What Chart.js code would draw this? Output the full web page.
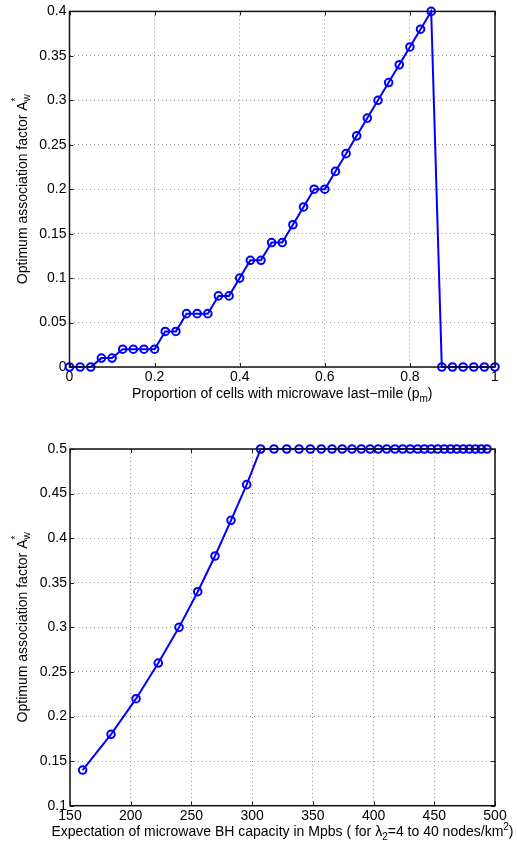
<!DOCTYPE html>
<html>
<head>
<meta charset="utf-8">
<script src="https://cdn.jsdelivr.net/npm/chart.js@4/dist/chart.umd.min.js"></script>
<style>
  body { margin: 0; background: #fff; }
  canvas { display: block; }
</style>
</head>
<body>
<canvas id="topChart" width="517" height="420"></canvas>
<canvas id="bottomChart" width="517" height="429"></canvas>
<script>
// top plot: proportion of cells with microwave last-mile
const pmValues = [0, 0.025, 0.05, 0.075, 0.1, 0.125, 0.15, 0.175, 0.2, 0.225, 0.25,
  0.275, 0.3, 0.325, 0.35, 0.375, 0.4, 0.425, 0.45, 0.475, 0.5, 0.525, 0.55, 0.575,
  0.6, 0.625, 0.65, 0.675, 0.7, 0.725, 0.75, 0.775, 0.8, 0.825, 0.85, 0.875, 0.9,
  0.925, 0.95, 0.975, 1];
const pmFactor = [0, 0, 0, 0.01, 0.01, 0.02, 0.02, 0.02, 0.02, 0.04, 0.04, 0.06, 0.06,
  0.06, 0.08, 0.08, 0.10, 0.12, 0.12, 0.14, 0.14, 0.16, 0.18, 0.20, 0.20, 0.22, 0.24,
  0.26, 0.28, 0.30, 0.32, 0.34, 0.36, 0.38, 0.40, 0, 0, 0, 0, 0, 0];
const pmTicksX = [0, 0.2, 0.4, 0.6, 0.8, 1];
const pmTicksY = [0, 0.05, 0.1, 0.15, 0.2, 0.25, 0.3, 0.35, 0.4];

// bottom plot: expected microwave BH capacity
const bhCapacity = [160.4, 183.8, 204.4, 222.7, 239.8, 255.2, 269.4, 282.6, 295.5,
  307.0, 318.0, 328.5, 338.6, 347.9, 356.9, 365.8, 374.2, 382.2, 389.9, 397.1, 403.9,
  410.8, 417.6, 424.0, 430.2, 436.3, 441.8, 447.3, 452.8, 458.2, 463.5, 468.5, 473.9,
  478.8, 483.8, 488.7, 493.4];
const bhFactor = [0.14, 0.18, 0.22, 0.26, 0.30, 0.34, 0.38, 0.42, 0.46,
  0.5, 0.5, 0.5, 0.5, 0.5, 0.5, 0.5, 0.5, 0.5, 0.5, 0.5, 0.5, 0.5, 0.5, 0.5, 0.5,
  0.5, 0.5, 0.5, 0.5, 0.5, 0.5, 0.5, 0.5, 0.5, 0.5, 0.5, 0.5];
const bhTicksX = [150, 200, 250, 300, 350, 400, 450, 500];
const bhTicksY = [0.1, 0.15, 0.2, 0.25, 0.3, 0.35, 0.4, 0.45, 0.5];

const FONT = "'Liberation Sans', Arial, Helvetica, sans-serif";
Chart.defaults.font.family = FONT;
Chart.defaults.font.size = 14;
Chart.defaults.color = "#000";

// draws a run of text parts; each part {t, sub, sup} or {stack:[sup, sub]}
function drawParts(ctx, parts, cx, cy) {
  const big = "14px " + FONT, small = "10px " + FONT;
  let widths = parts.map(p => {
    ctx.font = p.sub || p.sup || p.stack ? small : big;
    if (p.stack) return Math.max(ctx.measureText(p.stack[0]).width, ctx.measureText(p.stack[1]).width);
    return ctx.measureText(p.t).width;
  });
  let total = widths.reduce((a, b) => a + b, 0);
  let x = cx - total / 2;
  ctx.textAlign = "left";
  ctx.textBaseline = "alphabetic";
  parts.forEach((p, i) => {
    if (p.stack) {
      ctx.font = small;
      ctx.fillText(p.stack[0], x, cy - 8);
      ctx.fillText(p.stack[1], x, cy + 3);
    } else {
      ctx.font = p.sub || p.sup ? small : big;
      ctx.fillText(p.t, x, cy + (p.sub ? 4 : 0) + (p.sup ? -6 : 0));
    }
    x += widths[i];
  });
}

const frame = {
  id: "frame",
  afterDraw(chart, args, opts) {
    const { ctx, chartArea: a, scales } = chart;
    ctx.save();
    // inward tick marks
    ctx.strokeStyle = "#222";
    ctx.lineWidth = 1;
    ctx.beginPath();
    opts.xt.forEach(v => {
      const px = Math.round(scales.x.getPixelForValue(v)) + 0.5;
      ctx.moveTo(px, a.bottom); ctx.lineTo(px, a.bottom - 4);
      ctx.moveTo(px, a.top); ctx.lineTo(px, a.top + 4);
    });
    opts.yt.forEach(v => {
      const py = Math.round(scales.y.getPixelForValue(v)) + 0.5;
      ctx.moveTo(a.left, py); ctx.lineTo(a.left + 4, py);
      ctx.moveTo(a.right, py); ctx.lineTo(a.right - 4, py);
    });
    ctx.stroke();
    // box
    ctx.lineWidth = 1.5;
    ctx.strokeStyle = "#111";
    ctx.strokeRect(a.left, a.top, a.right - a.left, a.bottom - a.top);
    ctx.restore();
  }
};

const titles = {
  id: "titles",
  afterDraw(chart, args, opts) {
    const { ctx, chartArea: a } = chart;
    ctx.save();
    ctx.fillStyle = "#000";
    drawParts(ctx, opts.x, (a.left + a.right) / 2, opts.xy);
    ctx.translate(opts.yx, (a.top + a.bottom) / 2);
    ctx.rotate(-Math.PI / 2);
    drawParts(ctx, opts.y, 0, 0);
    ctx.restore();
  }
};

const yTitle = [{ t: "Optimum association factor A" }, { stack: ["*", "w"] }];
const fmt = v => String(+Number(v).toFixed(3));

function makeChart(id, xs, ys, xt, yt, xmin, xmax, ymin, ymax, geo, xTitle) {
  const pts = xs.map((x, i) => ({ x: x, y: ys[i] }));
  return new Chart(document.getElementById(id), {
    type: "line",
    data: {
      datasets: [{
        data: pts,
        borderColor: "#0000ff",
        borderWidth: 2,
        pointRadius: 3.8,
        pointBorderWidth: 2,
        pointBorderColor: "#0000ff",
        pointBackgroundColor: "rgba(0,0,0,0)",
        tension: 0,
        clip: false,
      }],
    },
    options: {
      responsive: false,
      animation: false,
      events: [],
      layout: { padding: { left: 0, right: geo.right, top: geo.top, bottom: 0 } },
      plugins: {
        legend: { display: false },
        tooltip: { enabled: false },
        frame: { xt: xt, yt: yt },
        titles: { x: xTitle, xy: geo.xTitleY, y: yTitle, yx: 27 },
      },
      scales: {
        x: {
          type: "linear",
          min: xmin, max: xmax,
          afterBuildTicks: s => { s.ticks = xt.map(v => ({ value: v })); },
          afterFit: s => { s.height = geo.xh; },
          ticks: { callback: fmt, padding: 2, maxRotation: 0, autoSkip: false },
          grid: { color: "#999", lineWidth: 1, drawTicks: false },
          border: { display: false, dash: [1, 3] },
        },
        y: {
          type: "linear",
          min: ymin, max: ymax,
          afterBuildTicks: s => { s.ticks = yt.map(v => ({ value: v })); },
          afterFit: s => { s.width = geo.yw; },
          ticks: { callback: fmt, padding: 3, autoSkip: false },
          grid: { color: "#999", lineWidth: 1, drawTicks: false },
          border: { display: false, dash: [1, 3] },
        },
      },
    },
    plugins: [frame, titles],
  });
}

makeChart("topChart", pmValues, pmFactor, pmTicksX, pmTicksY, 0, 1, 0, 0.4,
  { right: 22, top: 10, xh: 53, yw: 69.5, xTitleY: 398 },
  [{ t: "Proportion of cells with microwave last\u2212mile (p" }, { t: "m", sub: true }, { t: ")" }]);

makeChart("bottomChart", bhCapacity, bhFactor, bhTicksX, bhTicksY, 150, 500, 0.1, 0.5,
  { right: 22, top: 29, xh: 43.3, yw: 70, xTitleY: 416 },
  [{ t: "Expectation of microwave BH capacity in Mpbs ( for \u03bb" }, { t: "2", sub: true },
   { t: "=4 to 40 nodes/km" }, { t: "2", sup: true }, { t: ")" }]);
</script>
</body>
</html>
